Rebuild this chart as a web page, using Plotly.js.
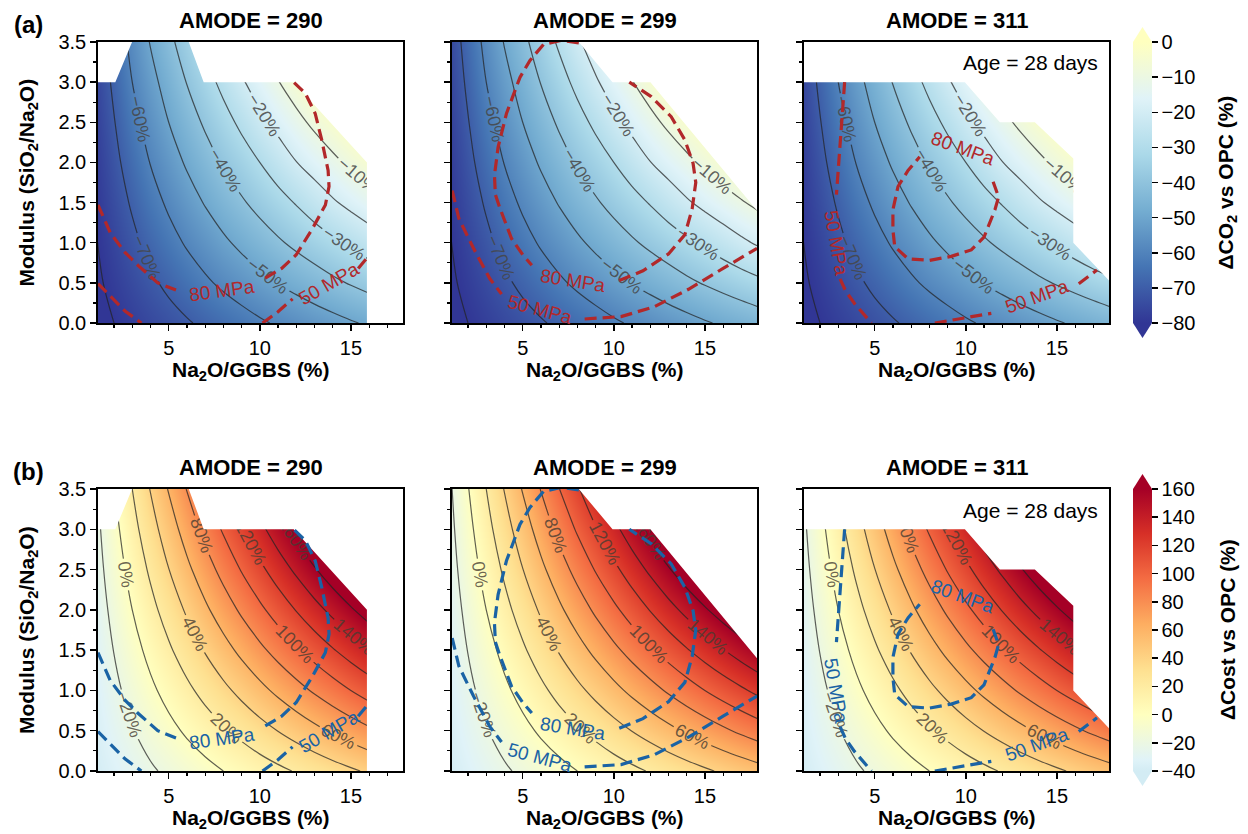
<!DOCTYPE html>
<html><head><meta charset="utf-8">
<script src="https://cdn.plot.ly/plotly-3.0.1.min.js"></script>
<style>html,body{margin:0;padding:0;background:#fff}#chart{width:1248px;height:834px}</style>
</head><body><div id="chart"></div>
<script>
// ---------------- DATA ----------------
const na2oGrid = [1,2,3,4,5,6,7,8,9,10,11,12,13,14,15,16,17,18];
const modulusGrid = [0,0.5,1,1.5,2,2.5,3,3.5];

// ΔCO2 vs OPC (%) on the grid (rows = modulus, cols = Na2O)
const co2Grid = [
 [-82.3,-80.0,-77.7,-75.4,-73.1,-70.8,-68.4,-66.0,-63.6,-61.2,-59.0,-57.0,-54.9,-52.9,-50.8,-48.9,-47.1,-45.2],
 [-81.3,-78.1,-74.8,-71.5,-68.2,-64.8,-61.4,-58.3,-55.4,-52.5,-49.7,-47.1,-44.5,-41.8,-39.3,-36.9,-34.4,-32.0],
 [-80.4,-76.2,-71.9,-67.6,-63.2,-59.0,-55.3,-51.5,-48.0,-44.6,-41.2,-38.0,-34.9,-31.7,-28.5,-25.1,-21.7,-18.6],
 [-79.4,-74.2,-69.0,-63.6,-58.5,-53.9,-49.4,-45.2,-41.1,-37.1,-33.3,-29.4,-25.2,-21.1,-17.5,-14.1,-10.8,-7.5],
 [-78.5,-72.3,-66.0,-59.7,-54.2,-48.9,-44.0,-39.1,-34.6,-30.0,-25.1,-20.2,-16.1,-12.1,-8.2,-4.5,-0.7,2.9],
 [-77.5,-70.4,-63.0,-56.3,-50.0,-44.3,-38.7,-33.4,-28.0,-22.3,-17.3,-12.6,-8.1,-3.8,0.6,4.6,8.7,12.8],
 [-76.5,-68.4,-60.0,-52.9,-46.2,-39.7,-33.7,-27.5,-21.1,-15.6,-10.4,-5.4,-0.5,4.2,8.8,13.4,18.0,22.7],
 [-75.6,-66.4,-57.5,-49.5,-42.3,-35.4,-28.6,-21.4,-15.3,-9.4,-3.9,1.5,6.7,11.9,17.1,22.2,27.4,32.6]
];
// ΔCost vs OPC (%)
const costGrid = [
 [-39.1,-33.5,-27.9,-22.3,-16.7,-11.2,-5.6,0.0,5.3,10.7,16.0,21.3,26.7,32.0,37.3,42.6,47.8,53.0],
 [-36.7,-28.8,-20.9,-13.0,-5.1,2.7,10.2,17.8,25.3,32.9,40.4,47.8,55.2,62.5,69.6,76.7,83.6,90.4],
 [-34.4,-24.2,-14.0,-3.7,6.2,16.0,25.8,35.6,45.2,54.8,64.2,73.3,82.4,91.2,100.0,108.5,116.9,125.4],
 [-32.1,-19.5,-7.0,5.3,17.3,29.3,41.3,53.0,64.6,75.8,86.8,97.6,108.1,118.5,128.8,139.2,149.6,160.0],
 [-29.8,-14.9,0.0,14.2,28.4,42.6,56.5,70.0,83.2,96.0,108.5,120.8,133.1,145.4,157.7,170.0,182.3,194.6],
 [-27.4,-10.2,6.7,23.1,39.6,55.7,71.3,86.4,101.2,115.4,129.6,143.8,158.1,172.3,186.5,200.8,215.0,229.2],
 [-25.1,-5.6,13.3,32.0,50.4,68.3,85.6,102.3,118.5,134.6,150.8,166.9,183.1,199.2,215.4,231.5,247.7,263.8],
 [-22.8,-0.9,20.0,40.9,61.3,80.8,99.6,117.7,135.8,153.8,171.9,190.0,208.1,226.2,244.2,262.3,280.4,298.5]
];

const amodes = [290, 299, 311];
const co2Ticks = [-80,-70,-60,-50,-40,-30,-20,-10,0];
const costTicks = [-40,-20,0,20,40,60,80,100,120,140,160];

// Domain masks (outside of the studied mix space), one per AMODE
const mask290x = [0.5,2.07,2.99,2.99,0.5,null, 6.1,6.1,6.92,11.86,15.88,15.88,18.5,18.5];
const mask290y = [3.0,3.0,3.5,3.8,3.8,null, 3.8,3.5,3.0,3.0,2.0,-0.3,-0.3,3.8];
const mask299x = [8.08,8.08,9.93,12.01,17.86,18.5,18.5];
const mask299y = [3.8,3.5,3.0,3.0,1.4,1.4,3.8];
const mask311x = [0.5,0.5,9.95,11.87,13.79,15.9,15.9,17.86,18.5,18.5];
const mask311y = [3.8,3.0,3.0,2.5,2.5,2.05,1.0,0.53,0.53,3.8];

// Strength iso-lines (80 MPa, 50 MPa)
const s80_290x = [1.12,1.8,2.6,3.3,4.4,5.4,null,10.3,11.2,12.0,12.9,13.6,13.8,13.75,13.4,13.04,12.5,11.86];
const s80_290y = [1.47,1.12,0.88,0.72,0.5,0.41,null,0.56,0.68,0.85,1.18,1.47,1.7,1.9,2.28,2.61,2.86,3.0];
const s50_290x = [1.12,1.8,2.6,3.5,null,10.15,11.0,11.8,null,15.4,15.88];
const s50_290y = [0.49,0.33,0.15,0.0,null,0.0,0.14,0.3,null,0.68,0.81];

const s80_299x = [8.08,7.1,6.14,5.4,4.85,4.11,3.65,3.45,3.5,3.75,4.39,5.0,5.5,null,10.3,11.6,13.0,13.9,14.3,14.5,14.35,13.9,13.15,12.05,10.85];
const s80_299y = [3.49,3.52,3.47,3.27,3.06,2.61,2.19,1.84,1.6,1.43,1.05,0.85,0.72,null,0.53,0.65,0.86,1.1,1.42,1.75,1.99,2.28,2.57,2.82,3.0];
const s50_299x = [1.13,1.5,2.3,3.2,3.84,null,8.4,10.4,12.2,14.1,16.0,17.86];
const s50_299y = [1.65,1.3,0.93,0.55,0.36,null,0.05,0.08,0.2,0.42,0.68,0.93];

const s80_311x = [11.5,11.8,11.6,11.0,10.3,9.2,8.0,6.83,6.1,6.0,6.0,6.28,6.83,7.47];
const s80_311y = [1.76,1.57,1.41,1.07,0.91,0.83,0.78,0.80,0.95,1.16,1.41,1.70,1.90,2.07];
const s50_311x = [3.35,3.17,2.99,2.9,null,3.1,3.4,3.9,4.82,null,8.3,9.76,11.4,null,16.2,17.2];
const s50_311y = [3.0,2.4,1.9,1.6,null,0.55,0.4,0.24,0.0,null,0.0,0.06,0.12,null,0.49,0.66];

// inline strength labels: text and data positions
const mpaText = ['80 MPa','50 MPa'];
const lab290 = {x:[7.95,13.8], y:[0.4,0.49]};
const lab299 = {x:[7.75,5.95], y:[0.53,0.17]};
const lab311 = {x:[9.85,2.9,13.9], y:[2.17,0.99,0.33], t:['80 MPa','50 MPa','50 MPa']};

// ---------------- STYLE / LAYOUT ----------------
const FONT = 'Liberation Sans, Arial, Helvetica, sans-serif';
const W = 1248, H = 834;
const px = v => v / W, py = v => 1 - v / H;

const colDom = [[98,403],[452,757],[804,1109]];
const rowDom = [[42,323],[489,771]];

const co2Scale = [[0,'#313695'],[0.2,'#4575b4'],[0.4,'#74add1'],[0.6,'#abd9e9'],[0.8,'#e0f3f8'],[1,'#ffffbf']];
const costScale = [[0,'#d3ecf4'],[0.04,'#e0f3f8'],[0.2,'#ffffbf'],[0.36,'#fee090'],[0.52,'#fdae61'],[0.68,'#f46d43'],[0.84,'#d73027'],[1,'#a50026']];

const masks = [[mask290x,mask290y],[mask299x,mask299y],[mask311x,mask311y]];
const s80 = [[s80_290x,s80_290y],[s80_299x,s80_299y],[s80_311x,s80_311y]];
const s50 = [[s50_290x,s50_290y],[s50_299x,s50_299y],[s50_311x,s50_311y]];
const labs = [
  {x:lab290.x, y:lab290.y, t:mpaText, a:[-8,-30]},
  {x:lab299.x, y:lab299.y, t:mpaText, a:[9,15]},
  {x:lab311.x, y:lab311.y, t:lab311.t, a:[20,80,-20]}
];

const traces = [];
const layout = {
  width: W, height: H, margin:{l:0,r:0,t:0,b:0},
  paper_bgcolor:'#fff', plot_bgcolor:'#fff', showlegend:false,
  font:{family:FONT, color:'#000', size:20},
  annotations:[], shapes:[]
};

for (let row = 0; row < 2; row++) {
  const grid = row === 0 ? co2Grid : costGrid;
  const frac = grid.map(r => r.map(v => v / 100));
  const strokeCol = row === 0 ? '#b2282a' : '#1a63a5';
  for (let col = 0; col < 3; col++) {
    const k = row * 3 + col + 1;
    const xa = 'x' + (k > 1 ? k : ''), ya = 'y' + (k > 1 ? k : '');
    const xkey = 'xaxis' + (k > 1 ? k : ''), ykey = 'yaxis' + (k > 1 ? k : '');
    layout[xkey] = {
      domain:[px(colDom[col][0]), px(colDom[col][1])], anchor: ya,
      range:[1.12,17.86], tick0:0, dtick:5, ticks:'outside', ticklen:6, tickwidth:1.5, tickcolor:'#000',
      minor:{ticks:'outside', tick0:0, dtick:1, ticklen:3.5, tickwidth:1.2, tickcolor:'#000'},
      showline:true, mirror:true, linecolor:'#000', linewidth:1.8,
      showgrid:false, zeroline:false, tickfont:{size:20, family:FONT}, fixedrange:true
    };
    layout[ykey] = {
      domain:[py(rowDom[row][1]), py(rowDom[row][0])], anchor: xa,
      range:[0,3.5], tick0:0, dtick:0.5, tickformat:'.1f', ticks:'outside', ticklen:6, tickwidth:1.5, tickcolor:'#000',
      minor:{ticks:'outside', tick0:0, dtick:0.25, ticklen:3.5, tickwidth:1.2, tickcolor:'#000'},
      showline:true, mirror:true, linecolor:'#000', linewidth:1.8, showticklabels: col === 0,
      showgrid:false, zeroline:false, tickfont:{size:20, family:FONT}, fixedrange:true
    };

    // continuous field
    traces.push({
      type:'heatmap', x:na2oGrid, y:modulusGrid, z:grid, zsmooth:'best',
      colorscale: row === 0 ? co2Scale : costScale,
      zmin: row === 0 ? -80 : -40, zmax: row === 0 ? 0 : 160, zauto:false,
      showscale: col === 2, hoverinfo:'skip', xaxis:xa, yaxis:ya,
      colorbar:{
        x:px(1133), xanchor:'left', xpad:0, ypad:0,
        y:py(rowDom[row][1]), yanchor:'bottom', len:(rowDom[row][1]-rowDom[row][0])/H, lenmode:'fraction',
        thickness:19, thicknessmode:'pixels', outlinewidth:0,
        ticks:'outside', ticklen:6, tickwidth:1.5, tickcolor:'#000',
        tickvals: row === 0 ? co2Ticks : costTicks, tickfont:{size:20, family:FONT}
      }
    });
    // iso-lines with % labels
    traces.push({
      type:'contour', x:na2oGrid, y:modulusGrid, z:frac, showscale:false,
      autocontour:false,
      contours: row === 0 ? {coloring:'none', start:-0.8, end:-0.1, size:0.1, showlabels:true, labelformat:'.0%',
                               labelfont:{size:18, family:FONT, color:'rgba(70,70,70,0.85)'}}
                          : {coloring:'none', start:-0.2, end:1.6, size:0.2, showlabels:true, labelformat:'.0%',
                               labelfont:{size:18, family:FONT, color:'rgba(70,60,50,0.8)'}},
      line:{color:'rgba(35,35,35,0.72)', width:1.2, smoothing:1},
      hoverinfo:'skip', xaxis:xa, yaxis:ya
    });
    // white mask
    traces.push({
      type:'scatter', mode:'lines', x:masks[col][0], y:masks[col][1], fill:'toself',
      fillcolor:'#ffffff', line:{width:0, color:'#ffffff'}, connectgaps:false,
      hoverinfo:'skip', xaxis:xa, yaxis:ya
    });
    // strength lines
    [s80[col], s50[col]].forEach(s => traces.push({
      type:'scatter', mode:'lines', x:s[0], y:s[1], connectgaps:false,
      line:{color:strokeCol, width:3.2, dash:'12px,6px'}, hoverinfo:'skip', xaxis:xa, yaxis:ya
    }));
    const L = labs[col];
    for (let i = 0; i < L.x.length; i++) {
      layout.annotations.push({xref:xa, yref:ya, x:L.x[i], y:L.y[i], text:L.t[i], showarrow:false,
        textangle:L.a[i], font:{size:19, family:FONT, color:strokeCol}});
    }
    // panel title
    const cx = (colDom[col][0] + colDom[col][1]) / 2;
    layout.annotations.push({xref:'paper', yref:'paper', x:px(cx), y:py(rowDom[row][0]-21), text:'<b>AMODE = ' + amodes[col] + '</b>',
      showarrow:false, font:{size:22, family:FONT}, xanchor:'center', yanchor:'middle'});
    layout.annotations.push({xref:'paper', yref:'paper', x:px(cx), y:py(rowDom[row][1]+48), text:'<b>Na<sub>2</sub>O/GGBS (%)</b>',
      showarrow:false, font:{size:21, family:FONT}, xanchor:'center', yanchor:'middle'});
  }
  const midY = (rowDom[row][0] + rowDom[row][1]) / 2;
  layout.annotations.push({xref:'paper', yref:'paper', x:px(28), y:py(midY), text:'<b>Modulus (SiO<sub>2</sub>/Na<sub>2</sub>O)</b>',
    showarrow:false, textangle:-90, font:{size:21, family:FONT}, xanchor:'center', yanchor:'middle'});
  layout.annotations.push({xref:'paper', yref:'paper', x:px(1227), y:py(midY),
    text: row === 0 ? '<b>ΔCO<sub>2</sub> vs OPC (%)</b>' : '<b>ΔCost vs OPC (%)</b>',
    showarrow:false, textangle:-90, font:{size:21, family:FONT}, xanchor:'center', yanchor:'middle'});
  layout.annotations.push({xref:'paper', yref:'paper', x:px(28), y:py(rowDom[row][0]-18), text: row === 0 ? '<b>(a)</b>' : '<b>(b)</b>',
    showarrow:false, font:{size:24, family:FONT}, xanchor:'center', yanchor:'middle'});
  layout.annotations.push({xref:'paper', yref:'paper', x:px(1100), y:py(rowDom[row][0]+21), text:'Age = 28 days',
    showarrow:false, font:{size:21, family:FONT}, xanchor:'right', yanchor:'middle'});

  // colorbar extension triangles
  const x0 = px(1133), x1 = px(1152), xm = px(1142.5);
  const topC = row === 0 ? '#ffffbf' : '#a50026';
  const botC = row === 0 ? '#313695' : '#d3ecf4';
  const yt = py(rowDom[row][0]), yb = py(rowDom[row][1]);
  const ytt = py(rowDom[row][0] - 15), ybt = py(rowDom[row][1] + 15);
  layout.shapes.push({type:'path', xref:'paper', yref:'paper', path:`M ${x0} ${yt} L ${x1} ${yt} L ${xm} ${ytt} Z`, fillcolor:topC, line:{width:0}});
  layout.shapes.push({type:'path', xref:'paper', yref:'paper', path:`M ${x0} ${yb} L ${x1} ${yb} L ${xm} ${ybt} Z`, fillcolor:botC, line:{width:0}});
}

Plotly.newPlot('chart', traces, layout, {displayModeBar:false, staticPlot:true});
</script></body></html>
